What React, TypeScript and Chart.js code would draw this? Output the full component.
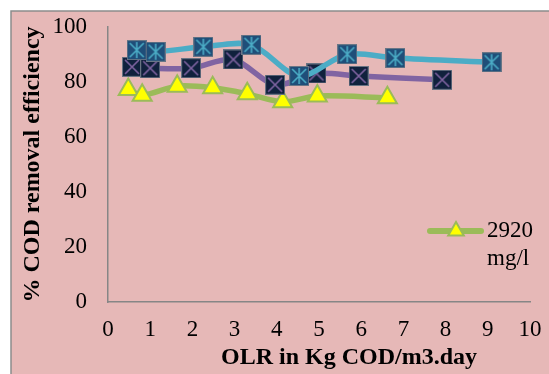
import { useEffect, useRef } from "react";
import { Chart, registerables } from "chart.js";

Chart.register(...registerables);

const FONT = '"Liberation Serif", "Times New Roman", serif';

// OLR (Kg COD/m3.day) and % COD removal for each feed strength
const olrHigh = [0.68, 1.13, 2.26, 3.4, 4.53, 5.67, 6.81, 9.09];
const effHigh = [91.6, 91.0, 92.8, 93.5, 82.2, 90.1, 88.7, 87.2];

const olrMid = [0.57, 1.0, 1.97, 2.97, 3.96, 4.94, 5.94, 7.92];
const effMid = [85.5, 85.0, 85.0, 88.2, 79.0, 83.1, 82.2, 80.8];

const olr2920 = [0.48, 0.81, 1.64, 2.48, 3.3, 4.14, 4.96, 6.62];
const eff2920 = [77.3, 75.2, 78.5, 77.9, 75.7, 72.8, 74.9, 74.3];

const legendLines = ["2920", "mg/l"];
const xTitle = "OLR in Kg COD/m3.day";
const yTitle = "% COD removal efficiency";

const CYAN = "#4BACC6";
const PURPLE = "#8064A2";
const GREEN = "#9BBB59";

function squareMarker(fill: string, stroke: string, withVertical: boolean) {
  const s = 20;
  const c = document.createElement("canvas");
  c.width = s;
  c.height = s;
  const g = c.getContext("2d")!;
  g.fillStyle = fill;
  g.fillRect(0, 0, s, s);
  g.strokeStyle = "rgba(110,120,135,0.95)";
  g.lineWidth = 1;
  g.strokeRect(0.5, 0.5, s - 1, s - 1);
  g.strokeStyle = stroke;
  g.lineWidth = 1.6;
  g.beginPath();
  g.moveTo(3, 3);
  g.lineTo(s - 3, s - 3);
  g.moveTo(s - 3, 3);
  g.lineTo(3, s - 3);
  if (withVertical) {
    g.moveTo(s / 2, 2);
    g.lineTo(s / 2, s - 2);
  }
  g.stroke();
  return c;
}

const toPoints = (xs: number[], ys: number[]) => xs.map((x, i) => ({ x, y: ys[i] }));

export default function App() {
  const ref = useRef<HTMLCanvasElement>(null);

  useEffect(() => {
    const canvas = ref.current!;
    const starMarker = squareMarker("#1F4E79", CYAN, true);
    const crossMarker = squareMarker("#10213D", PURPLE, false);

    const backdrop = {
      id: "backdrop",
      beforeDraw(chart: any) {
        const { ctx, width, height } = chart;
        ctx.save();
        ctx.fillStyle = "#ffffff";
        ctx.fillRect(0, 0, width, height);
        ctx.fillStyle = "#E6B8B7";
        ctx.fillRect(11, 11, width - 11, height - 11);
        ctx.strokeStyle = "#8C8C8C";
        ctx.lineWidth = 1.5;
        ctx.beginPath();
        ctx.moveTo(11, height);
        ctx.lineTo(11, 11);
        ctx.lineTo(width, 11);
        ctx.stroke();
        ctx.restore();
      },
    };

    const annotations = {
      id: "annotations",
      afterDraw(chart: any) {
        const { ctx } = chart;
        ctx.save();
        // x-axis title
        ctx.fillStyle = "#000000";
        ctx.font = `bold 24px ${FONT}`;
        ctx.textAlign = "center";
        ctx.textBaseline = "middle";
        ctx.fillText(xTitle, 349, 358);

        // legend entry
        ctx.strokeStyle = GREEN;
        ctx.lineWidth = 6;
        ctx.lineCap = "round";
        ctx.beginPath();
        ctx.moveTo(430, 231);
        ctx.lineTo(481, 231);
        ctx.stroke();
        const r = 9;
        ctx.beginPath();
        ctx.moveTo(456, 231 - r);
        ctx.lineTo(456 + r * 0.866, 231 + r / 2);
        ctx.lineTo(456 - r * 0.866, 231 + r / 2);
        ctx.closePath();
        ctx.fillStyle = "#FFFF00";
        ctx.fill();
        ctx.lineWidth = 2;
        ctx.lineJoin = "miter";
        ctx.stroke();

        ctx.fillStyle = "#000000";
        ctx.font = `23px ${FONT}`;
        ctx.textAlign = "left";
        ctx.textBaseline = "middle";
        ctx.fillText(legendLines[0], 487, 231);
        ctx.fillText(legendLines[1], 487, 259);
        ctx.restore();
      },
    };

    const chart = new Chart(canvas, {
      type: "scatter",
      data: {
        datasets: [
          {
            label: "Series A",
            data: toPoints(olrHigh, effHigh),
            showLine: true,
            borderColor: CYAN,
            borderWidth: 5.5,
            tension: 0.3,
            pointStyle: starMarker as any,
            pointRadius: 10,
          },
          {
            label: "Series B",
            data: toPoints(olrMid, effMid),
            showLine: true,
            borderColor: PURPLE,
            borderWidth: 5.5,
            tension: 0.3,
            pointStyle: crossMarker as any,
            pointRadius: 10,
          },
          {
            label: "2920 mg/l",
            data: toPoints(olr2920, eff2920),
            showLine: true,
            borderColor: GREEN,
            borderWidth: 5.5,
            tension: 0.3,
            pointStyle: "triangle",
            pointRadius: 11,
            pointBackgroundColor: "#FFFF00",
            pointBorderColor: GREEN,
            pointBorderWidth: 2,
          },
        ],
      },
      options: {
        responsive: false,
        animation: false,
        events: [],
        layout: { autoPadding: false, padding: { top: 27, right: 19, left: 0, bottom: 0 } },
        plugins: {
          legend: { display: false },
          tooltip: { enabled: false },
        },
        scales: {
          x: {
            type: "linear",
            min: 0,
            max: 10,
            grid: { display: false, drawTicks: true, tickLength: 14 },
            border: { display: true, color: "#868686", width: 1.5 },
            ticks: {
              stepSize: 1,
              padding: 0,
              color: "#000000",
              font: { family: FONT, size: 23 },
            },
            afterFit(scale: any) {
              scale.height = 72;
            },
          },
          y: {
            min: 0,
            max: 100,
            grid: { display: false, drawTicks: true, tickLength: 21 },
            border: { display: true, color: "#868686", width: 1.5 },
            ticks: {
              stepSize: 20,
              padding: 0,
              color: "#000000",
              font: { family: FONT, size: 23 },
            },
            title: {
              display: true,
              text: yTitle,
              color: "#000000",
              font: { family: FONT, size: 24, weight: "bold" },
              padding: { top: 18, bottom: 0 },
            },
            afterFit(scale: any) {
              scale.width = 108;
            },
          },
        },
      },
      plugins: [backdrop, annotations],
    });

    return () => chart.destroy();
  }, []);

  return (
    <div style={{ position: "fixed", left: 0, top: 0, width: 549, height: 374 }}>
      <canvas ref={ref} width={549} height={374} style={{ width: 549, height: 374, display: "block" }} />
    </div>
  );
}
